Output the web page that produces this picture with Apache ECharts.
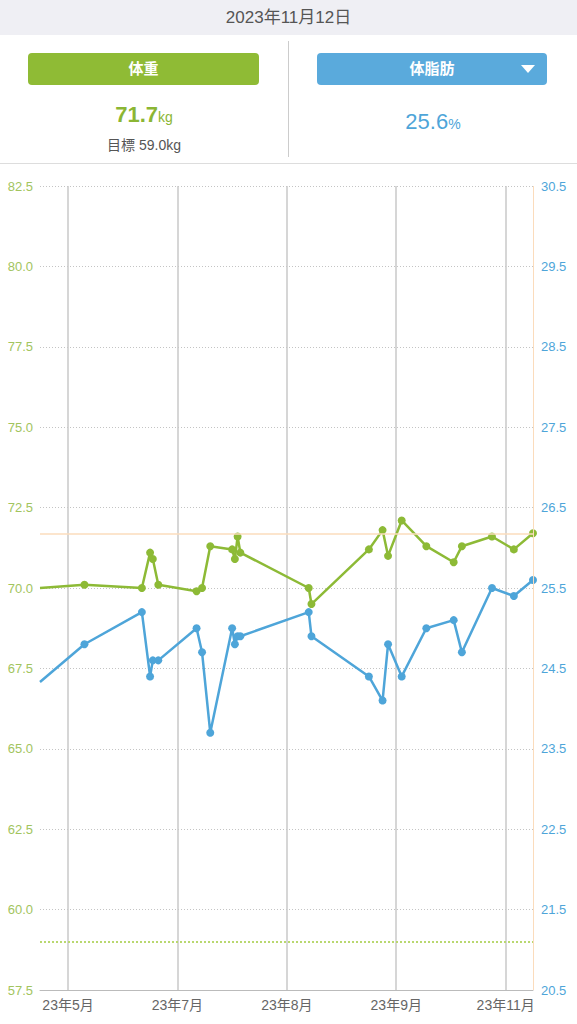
<!DOCTYPE html>
<html>
<head>
<meta charset="utf-8">
<script src="https://cdn.jsdelivr.net/npm/echarts@6/dist/echarts.min.js"></script>
<style>
  html, body { margin: 0; padding: 0; width: 577px; height: 1024px; overflow: hidden; background: #fff;
    font-family: "Liberation Sans", "Noto Sans CJK JP", sans-serif; }
  #dateBar { height: 35px; line-height: 35px; background: #efeff4; text-align: center; color: #555; font-size: 17px; }
  #panel { position: relative; height: 128px; border-bottom: 1px solid #ddd; }
  .btn { position: absolute; top: 18px; height: 32px; line-height: 32px; border-radius: 4px; color: #fff;
    font-size: 15px; font-weight: bold; text-align: center; }
  #btnW { left: 28px; width: 231px; background: #8fbb35; }
  #btnF { left: 317px; width: 230px; background: #5aaadc; }
  #btnF .tri { position: absolute; right: 12px; top: 12px; width: 0; height: 0;
    border-left: 7px solid transparent; border-right: 7px solid transparent; border-top: 8px solid #fff; }
  #divider { position: absolute; left: 288px; top: 6px; width: 1px; height: 116px; background: #ccc; }
  .val { position: absolute; text-align: center; font-size: 22px; }
  .val small { font-size: 14px; font-weight: normal; }
  #valW { left: 0; width: 288px; top: 67px; color: #8bb634; font-weight: bold; }
  #valF { left: 289px; width: 288px; top: 74px; color: #4ea5d9; }
  #goal { position: absolute; left: 0; width: 288px; top: 99px; text-align: center; color: #555; font-size: 14px; }
  #chart { width: 577px; height: 860px; }
</style>
</head>
<body>
<div id="dateBar">2023年11月12日</div>
<div id="panel">
  <div class="btn" id="btnW">体重</div>
  <div class="btn" id="btnF">体脂肪<span class="tri"></span></div>
  <div id="divider"></div>
  <div class="val" id="valW">71.7<small>kg</small></div>
  <div id="goal">目標 59.0kg</div>
  <div class="val" id="valF">25.6<small>%</small></div>
</div>
<div id="chart"></div>
<script>
// day of year 2023; first entry is where the lines enter at the left edge
var days = [134.75, 151, 172, 175, 176, 178, 192, 194, 197, 205, 206, 207, 208, 233, 234, 255, 260, 262, 267, 276, 286, 289, 300, 308, 315];
var weight = [70.0, 70.1, 70.0, 71.1, 70.9, 70.1, 69.9, 70.0, 71.3, 71.2, 70.9, 71.6, 71.1, 70.0, 69.5, 71.2, 71.8, 71.0, 72.1, 71.3, 70.8, 71.3, 71.6, 71.2, 71.7];
var bodyFat = [24.33, 24.8, 25.2, 24.4, 24.6, 24.6, 25.0, 24.7, 23.7, 25.0, 24.8, 24.9, 24.9, 25.2, 24.9, 24.4, 24.1, 24.8, 24.4, 25.0, 25.1, 24.7, 25.5, 25.4, 25.6];
var tickDays = [145, 185, 225, 265, 305];
var tickLabels = ['23年5月', '23年7月', '23年8月', '23年9月', '23年11月'];
var fatTicks = [20.5, 21.5, 22.5, 23.5, 24.5, 25.5, 26.5, 27.5, 28.5, 29.5, 30.5];
var goalWeight = 59.0;
var currentWeight = 71.7;
var today = 315;

var green = '#8dba36';
var blue = '#4ea5d9';

var chart = echarts.init(document.getElementById('chart'), null, { renderer: 'svg' });

var weightData = [];
var fatData = [];
for (var i = 0; i < days.length; i++) {
  // the edge entry has no marker
  var sym = i === 0 ? 'none' : 'circle';
  weightData.push({ value: [days[i], weight[i]], symbol: sym });
  fatData.push({ value: [days[i], bodyFat[i]], symbol: sym });
}

chart.setOption({
  animation: false,
  textStyle: { fontFamily: '"Liberation Sans", "Noto Sans CJK JP", sans-serif' },
  grid: { left: 40, right: 44, top: 22, bottom: 34 },
  xAxis: {
    type: 'value',
    min: 134.75,
    max: 315,
    axisLine: { show: true, onZero: false, lineStyle: { color: '#bbb', width: 1 } },
    axisTick: { show: false, customValues: tickDays },
    axisLabel: {
      customValues: tickDays,
      color: '#666',
      fontSize: 14,
      margin: 8,
      formatter: function (v) {
        var k = tickDays.indexOf(v);
        return k >= 0 ? tickLabels[k] : '';
      }
    },
    splitLine: { show: true, lineStyle: { color: '#c8c8c8', width: 1.5, type: 'solid' } }
  },
  yAxis: [
    {
      type: 'value',
      min: 57.5,
      max: 82.5,
      interval: 2.5,
      axisLine: { show: false },
      axisTick: { show: false },
      axisLabel: { color: '#a2c45e', fontSize: 13, margin: 7, formatter: function (v) { return v.toFixed(1); } },
      splitLine: { show: true, lineStyle: { color: '#c4c4c4', width: 1, type: [1, 2] } }
    },
    {
      type: 'value',
      min: 20.5,
      max: 30.5,
      position: 'right',
      axisLine: { show: false },
      axisTick: { show: false, customValues: fatTicks },
      axisLabel: { customValues: fatTicks, color: blue, fontSize: 13, margin: 8, formatter: function (v) { return v.toFixed(1); } },
      splitLine: { show: false }
    }
  ],
  series: [
    {
      name: '体重',
      type: 'line',
      yAxisIndex: 0,
      data: weightData,
      symbol: 'circle',
      symbolSize: 8,
      clip: false,
      lineStyle: { color: green, width: 2.5 },
      itemStyle: { color: green },
      z: 3,
      markLine: {
        silent: true,
        symbol: 'none',
        label: { show: false },
        data: [
          { yAxis: goalWeight, lineStyle: { color: '#b9d870', width: 2, type: [2, 2] } },
          { yAxis: currentWeight, lineStyle: { color: '#fbdcbc', width: 1.5, type: 'solid' } },
          { xAxis: today, lineStyle: { color: '#fbdcbc', width: 1, type: 'solid' } }
        ]
      }
    },
    {
      name: '体脂肪',
      type: 'line',
      yAxisIndex: 1,
      data: fatData,
      symbol: 'circle',
      symbolSize: 8,
      clip: false,
      lineStyle: { color: blue, width: 2.5 },
      itemStyle: { color: blue },
      z: 3
    }
  ]
});
</script>
</body>
</html>
